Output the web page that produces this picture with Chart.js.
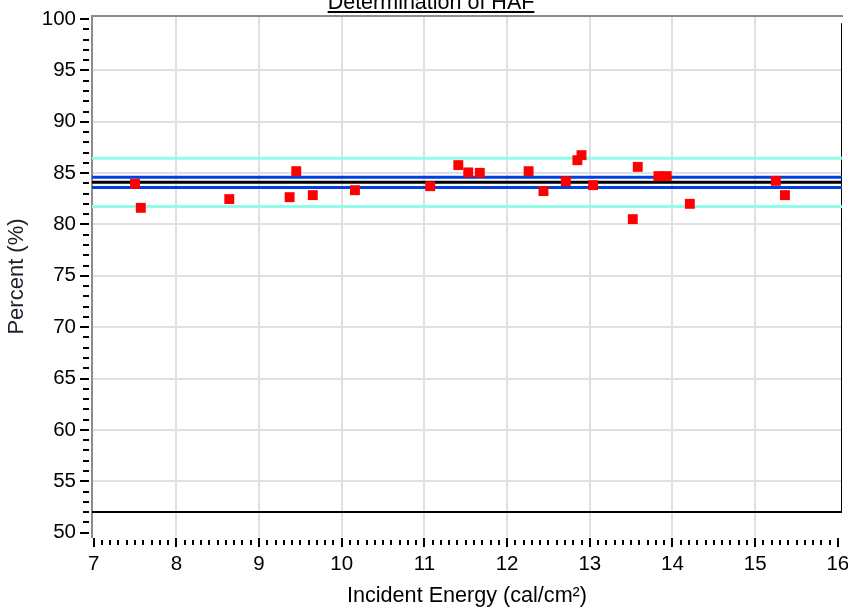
<!DOCTYPE html>
<html>
<head>
<meta charset="utf-8">
<script src="https://cdn.jsdelivr.net/npm/chart.js@4/dist/chart.umd.min.js"></script>
<style>
body{margin:0;background:#fff;}
#wrap{width:848px;height:609px;position:relative;}
</style>
</head>
<body>
<div id="wrap"><canvas id="chart"></canvas></div>
<script>
// measured points
const energy  = [7.50, 7.57, 8.64, 9.37, 9.45, 9.65, 10.16, 11.07, 11.41, 11.53, 11.67, 12.26,
                 12.44, 12.71, 12.85, 12.90, 13.04, 13.52, 13.58, 13.83, 13.93, 14.21, 15.25, 15.36];
const percent = [83.96, 81.62, 82.47, 82.66, 85.19, 82.86, 83.34, 83.73, 85.78, 85.07, 85.03, 85.19,
                 83.25, 84.22, 86.26, 86.75, 83.83, 80.52, 85.61, 84.71, 84.71, 82.01, 84.25, 82.86];

// limit lines
const outerLimits = [86.45, 81.75];
const innerLimits = [84.6, 83.6];
const meanLine = 84.1;

// frame drawn in data units
const frameX = [6.98, 16.05, 16.05];
const frameY = [52, 52, 99.6];

const xTicks = [7, 8, 9, 10, 11, 12, 13, 14, 15, 16];
const yTicks = [50, 55, 60, 65, 70, 75, 80, 85, 90, 95, 100];

const X_MIN = 6.98, X_MAX = 16.05;
const Y_MIN = 49.57, Y_MAX = 100.3;
const TITLE = "Determination of HAF";
const FONT = '"Liberation Sans", Arial, sans-serif';

function hline(v){
  return [{x: X_MIN, y: v}, {x: X_MAX, y: v}];
}

const decor = {
  id: "decor",
  afterDraw(chart){
    const {ctx, chartArea: a, scales: {x, y}} = chart;
    ctx.save();
    // top border
    ctx.strokeStyle = "#8c8c8c";
    ctx.lineWidth = 2;
    ctx.beginPath();
    ctx.moveTo(a.left - 1, a.top);
    ctx.lineTo(a.right + 1, a.top);
    ctx.stroke();
    // tick marks, major + minor
    ctx.strokeStyle = "#000";
    for (let i = 0; i < xTicks.length; i++) {
      const steps = i < xTicks.length - 1 ? 10 : 1;
      for (let k = 0; k < steps; k++) {
        const v = xTicks[i] + k / 10;
        const px = Math.round(x.getPixelForValue(v));
        const major = k === 0;
        ctx.beginPath();
        ctx.moveTo(px, a.bottom + (major ? 1 : 3));
        ctx.lineTo(px, a.bottom + (major ? 10 : 8));
        ctx.stroke();
      }
    }
    for (let v = yTicks[0]; v <= yTicks[yTicks.length - 1]; v++) {
      const py = Math.round(y.getPixelForValue(v));
      const major = v % 5 === 0;
      ctx.beginPath();
      ctx.moveTo(a.left - 3, py);
      ctx.lineTo(a.left - (major ? 12 : 9), py);
      ctx.stroke();
    }
    // title (cut at top edge, underlined)
    ctx.font = "21.5px " + FONT;
    ctx.fillStyle = "#000";
    ctx.textAlign = "center";
    ctx.textBaseline = "alphabetic";
    ctx.fillText(TITLE, 431, 9);
    const w = ctx.measureText(TITLE).width;
    ctx.fillRect(431 - w / 2, 11, w, 2);
    ctx.restore();
  }
};

new Chart(document.getElementById("chart"), {
  type: "scatter",
  data: {
    datasets: [
      {
        label: "Percent",
        data: energy.map((e, i) => ({x: e, y: percent[i]})),
        pointStyle: "rect",
        pointRadius: 7,
        pointHoverRadius: 7,
        pointBorderWidth: 0,
        backgroundColor: "#ff0000",
        borderColor: "#ff0000"
      },
      {
        label: "Mean",
        data: hline(meanLine),
        showLine: true, pointRadius: 0,
        borderColor: "#000", borderWidth: 3
      },
      {
        label: "Upper",
        data: hline(innerLimits[0]),
        showLine: true, pointRadius: 0,
        borderColor: "#0040e0", borderWidth: 3
      },
      {
        label: "Lower",
        data: hline(innerLimits[1]),
        showLine: true, pointRadius: 0,
        borderColor: "#0040e0", borderWidth: 3
      },
      {
        label: "UCL",
        data: hline(outerLimits[0]),
        showLine: true, pointRadius: 0,
        borderColor: "#92fce8", borderWidth: 3
      },
      {
        label: "LCL",
        data: hline(outerLimits[1]),
        showLine: true, pointRadius: 0,
        borderColor: "#92fce8", borderWidth: 3
      },
      {
        label: "Frame",
        data: frameX.map((v, i) => ({x: v, y: frameY[i]})),
        showLine: true, pointRadius: 0,
        borderColor: "#000", borderWidth: 2
      }
    ]
  },
  options: {
    responsive: true,
    maintainAspectRatio: false,
    animation: false,
    layout: {autoPadding: false, padding: {top: 16, right: 6, left: 0, bottom: 0}},
    plugins: {legend: {display: false}, tooltip: {enabled: false}},
    scales: {
      x: {
        type: "linear",
        min: X_MIN, max: X_MAX,
        afterBuildTicks(s){ s.ticks = xTicks.map(v => ({value: v})); },
        afterFit(s){ s.height = 72; s.paddingLeft = 0; s.paddingRight = 0; },
        border: {display: false},
        grid: {
          drawTicks: false,
          lineWidth: 2,
          color: c => (c.tick && c.tick.value > xTicks[0] && c.tick.value < xTicks[xTicks.length - 1]) ? "#e0e0e0" : "rgba(0,0,0,0)"
        },
        ticks: {padding: 15, color: "#000", font: {family: FONT, size: 20.5}, maxRotation: 0},
        title: {display: true, text: "Incident Energy (cal/cm²)", color: "#000",
                font: {family: FONT, size: 21.6}, padding: {top: 0, bottom: 0}}
      },
      y: {
        min: Y_MIN, max: Y_MAX,
        afterBuildTicks(s){ s.ticks = yTicks.map(v => ({value: v})); },
        afterFit(s){ s.width = 92; s.paddingTop = 0; s.paddingBottom = 0; },
        border: {display: true, color: "#8c8c8c", width: 2},
        grid: {
          drawTicks: false,
          lineWidth: 2,
          color: c => (c.tick && c.tick.value > yTicks[0] && c.tick.value < yTicks[yTicks.length - 1]) ? "#e0e0e0" : "rgba(0,0,0,0)"
        },
        ticks: {padding: 16, color: "#000", font: {family: FONT, size: 20.5}},
        title: {display: true, text: "Percent (%)", color: "#1e1e2a",
                font: {family: FONT, size: 22}, padding: {top: 4, bottom: 0}}
      }
    }
  },
  plugins: [decor]
});
</script>
</body>
</html>
